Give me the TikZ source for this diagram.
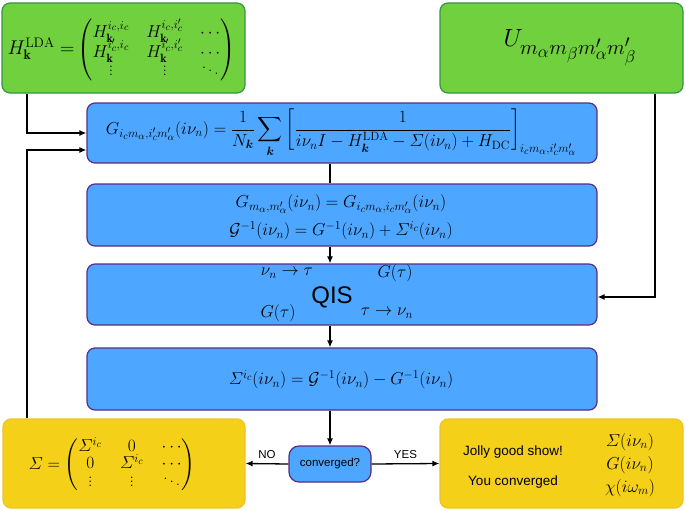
\documentclass[tikz,border=0pt]{standalone}
\usepackage{amsmath}
\usepackage{fontspec}
\setsansfont{Liberation Sans}
\usetikzlibrary{arrows.meta,calc}
\definecolor{gfill}{RGB}{112,208,62}
\definecolor{gdraw}{RGB}{50,150,70}
\definecolor{bfill}{RGB}{77,166,255}
\definecolor{bdraw}{RGB}{90,45,130}
\definecolor{yfill}{RGB}{244,208,24}
\definecolor{ydraw}{RGB}{236,196,40}
\tikzset{
  base/.style={rounded corners=8pt, line width=1.2pt, inner sep=0pt},
  greenbox/.style={base, draw=gdraw, fill=gfill},
  bluebox/.style={base, draw=bdraw, fill=bfill},
  yellowbox/.style={base, draw=ydraw, fill=yfill},
  lbl/.style={inner sep=1pt, font=\fontsize{17.28}{21}\selectfont},
  sflbl/.style={inner sep=1pt, font=\sffamily\fontsize{11.5}{14}\selectfont},
  sfbig/.style={inner sep=1pt, font=\sffamily\fontsize{13.5}{16}\selectfont},
  conn/.style={line width=1.3pt, black},
  arr/.style={conn, -{Latex[length=7pt,width=6pt]}}
}
\begin{document}
\begin{tikzpicture}[x=1pt,y=-1pt]
\useasboundingbox (0,0) rectangle (685,511);
% boxes
\node[greenbox, minimum width=243pt, minimum height=90pt] (hk) at (123.5,48) {};
\node[lbl] (hkt) at (121.5,50) {\setlength{\arraycolsep}{8.5pt}\scalebox{1.15}{$H^{\mathrm{LDA}}_{\mathbf{k}} =$}\,$\begin{pmatrix} H^{i_c,i_c}_{\mathbf{k}} & H^{i_c,i'_c}_{\mathbf{k}} & \cdots \\[-5pt] H^{i'_c,i_c}_{\mathbf{k}} & H^{i'_c,i'_c}_{\mathbf{k}} & \cdots \\[-4pt] \vdots & \vdots & \ddots \end{pmatrix}$};
\node[greenbox, minimum width=243pt, minimum height=90pt] (U) at (561.5,48) {};
\node[lbl, font=\fontsize{24.88}{29}\selectfont] (Ut) at (570,48) {$U_{m_\alpha m_\beta m'_\alpha m'_\beta}$};

\node[bluebox, minimum width=510pt, minimum height=60pt] (g1) at (342,133) {};
\node[lbl] (g1t) at (341,133) {$\displaystyle G_{i_c m_\alpha, i'_c m'_\alpha}(i\nu_n) = \frac{1}{N_{\boldsymbol{k}}} \sum_{\boldsymbol{k}} \left[ \frac{1}{i\nu_n I - H^{\mathrm{LDA}}_{\boldsymbol{k}} - \varSigma(i\nu_n) + H_{\mathrm{DC}}} \right]_{i_c m_\alpha, i'_c m'_\alpha}$};

\node[bluebox, minimum width=510pt, minimum height=62pt] (g2) at (342,215) {};
\node[lbl] (g2a) at (341,204) {$G_{m_\alpha, m'_\alpha}(i\nu_n) = G_{i_c m_\alpha, i_c m'_\alpha}(i\nu_n)$};
\node[lbl] (g2b) at (341,231) {$\mathcal{G}^{-1}(i\nu_n) = G^{-1}(i\nu_n) + \varSigma^{i_c}(i\nu_n)$};

\node[bluebox, minimum width=510pt, minimum height=61pt] (qis) at (342,294.5) {};
\node[font=\sffamily\fontsize{24}{28}\selectfont, inner sep=0pt] (qist) at (332,297) {QIS};
\node[lbl] (q1) at (287,273) {$\nu_n \to \tau$};
\node[lbl] (q2) at (395,273) {$G(\tau)$};
\node[lbl] (q3) at (278,313) {$G(\tau)$};
\node[lbl] (q4) at (387,313) {$\tau \to \nu_n$};

\node[bluebox, minimum width=510pt, minimum height=62pt] (sig) at (342,379) {};
\node[lbl] (sigt) at (341,380) {$\varSigma^{i_c}(i\nu_n) = \mathcal{G}^{-1}(i\nu_n) - G^{-1}(i\nu_n)$};

\node[bluebox, rounded corners=10pt, minimum width=82pt, minimum height=36pt, font=\sffamily\fontsize{11.5}{14}\selectfont] (conv) at (330,464) {converged?};

\node[yellowbox, minimum width=242pt, minimum height=89pt] (ysig) at (124,463.5) {};
\node[lbl] (ysigt) at (112,465) {\setlength{\arraycolsep}{9pt}$\varSigma = \begin{pmatrix} \varSigma^{i_c} & 0 & \cdots \\[-4pt] 0 & \varSigma^{i_c} & \cdots \\[-4pt] \vdots & \vdots & \ddots \end{pmatrix}$};

\node[yellowbox, minimum width=243pt, minimum height=89pt] (yres) at (561.5,463.5) {};
\node[sfbig] (jolly) at (513,452) {Jolly good show!};
\node[sfbig] (youc) at (513,482) {You converged};
\node[lbl] (r1) at (630,442) {$\varSigma(i\nu_n)$};
\node[lbl] (r2) at (630,465) {$G(i\nu_n)$};
\node[lbl] (r3) at (630,488) {$\chi(i\omega_m)$};

% connectors
\coordinate (c1) at (27,133);
\coordinate (c2) at (27,150);
\coordinate (c3) at (655,297);
\coordinate (cx) at (330,0);
\draw[arr] (hk.south -| c1) |- (c1 -| g1.west);
\draw[arr] (ysig.north -| c2) |- (c2 -| g1.west);
\draw[arr] (U.south -| c3) |- (c3 -| qis.east);
\draw[conn] (g1.south -| cx) -- (g2.north -| cx);
\draw[arr] (g2.south -| cx) -- (qis.north -| cx);
\draw[arr] (qis.south -| cx) -- (sig.north -| cx);
\draw[arr] (sig.south -| cx) -- (conv.north);
\draw[arr] (conv.west) -- node[sflbl, above=3pt] {NO} (ysig.east);
\draw[arr] (conv.east) -- node[sflbl, above=3pt] {YES} (yres.west);
\end{tikzpicture}
\end{document}
